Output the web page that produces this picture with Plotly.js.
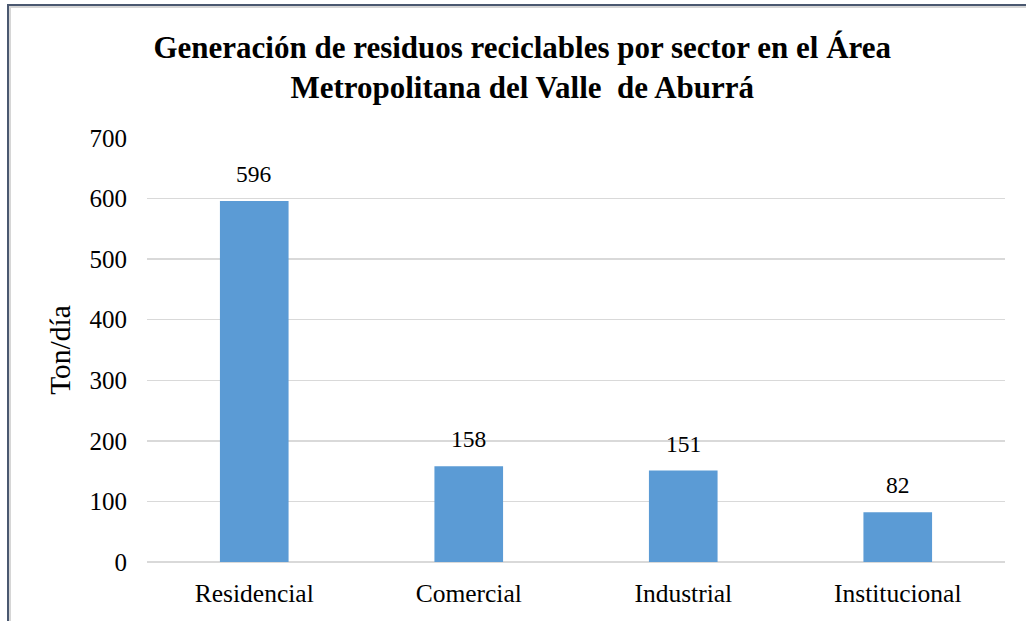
<!DOCTYPE html>
<html>
<head>
<meta charset="utf-8">
<script src="https://cdn.plot.ly/plotly-3.0.1.min.js"></script>
<style>
  html, body { margin: 0; padding: 0; background: #ffffff; }
  #wrap { position: relative; width: 1026px; height: 621px; overflow: hidden; }
  #chart { position: absolute; left: 0; top: 0; width: 1026px; height: 621px; }
  #frame { position: absolute; left: 7px; top: 4px; width: 1040px; height: 640px;
           border-top: 2px solid #4a5870; border-left: 2px solid #4a5870;
           box-shadow: inset 2px 2px 0 #d6d6d6; pointer-events: none; }
</style>
</head>
<body>
<div id="wrap">
  <div id="chart"></div>
  <div id="frame"></div>
</div>
<script>
const categories = ["Residencial", "Comercial", "Industrial", "Institucional"];
const values = [596, 158, 151, 82];
const yTickVals = [0, 100, 200, 300, 400, 500, 600, 700];
const titleText = "Generación de residuos reciclables por sector en el Área<br>Metropolitana del Valle  de Aburrá";
const yTitle = "Ton/día";

const serif = "Liberation Serif, Times New Roman, serif";

const trace = {
  type: "bar",
  x: categories,
  y: values,
  marker: { color: "#5b9bd5" },
  hoverinfo: "x+y"
};

const annotations = categories.map((c, i) => ({
  x: c, y: values[i], xref: "x", yref: "y",
  text: String(values[i]), showarrow: false,
  yanchor: "bottom", yshift: 12,
  font: { family: serif, size: 23.5, color: "#000000" }
}));

const layout = {
  width: 1026, height: 621,
  paper_bgcolor: "#ffffff", plot_bgcolor: "#ffffff",
  margin: { l: 147, r: 21, t: 138, b: 59 },
  bargap: 0.68,
  showlegend: false,
  title: {
    text: titleText,
    font: { family: serif, size: 31, color: "#000000", weight: "bold" },
    x: 0.509, xref: "container", xanchor: "center",
    y: 1 - 58 / 621, yref: "container", yanchor: "top"
  },
  xaxis: {
    type: "category",
    showgrid: false, zeroline: false, showline: false,
    ticks: "", ticklabelstandoff: 13,
    tickfont: { family: serif, size: 25.5, color: "#000000" }
  },
  yaxis: {
    range: [0, 700], tickvals: yTickVals,
    showgrid: true, gridcolor: "#d9d9d9", gridwidth: 1.3,
    zeroline: true, zerolinecolor: "#d9d9d9", zerolinewidth: 1.3,
    showline: false, ticks: "", ticklabelstandoff: 19,
    tickfont: { family: serif, size: 25, color: "#000000" },
    title: { text: yTitle, font: { family: serif, size: 29.5, color: "#000000" }, standoff: 10 }
  },
  annotations: annotations
};

Plotly.newPlot("chart", [trace], layout, { displayModeBar: false, staticPlot: true });
</script>
</body>
</html>
